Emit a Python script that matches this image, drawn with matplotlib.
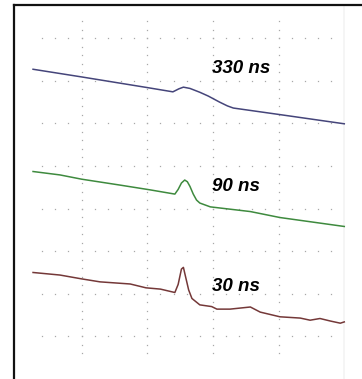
import numpy as np
import matplotlib
matplotlib.use("Agg")
import matplotlib.pyplot as plt

# time axis in screen divisions, signal in vertical divisions
t_330 = [0.26, 1.00, 2.00, 2.39, 2.48, 2.55, 2.65, 2.80, 2.93, 3.10, 3.22, 3.31, 4.00, 5.00]
v_330 = [7.27, 7.09, 6.84, 6.74, 6.81, 6.85, 6.82, 6.73, 6.64, 6.50, 6.41, 6.36, 6.21, 5.99]

t_90 = [0.26, 0.67, 1.00, 1.59, 2.04, 2.42, 2.47, 2.52, 2.57, 2.61, 2.65, 2.70, 2.75, 2.80,
        2.96, 3.57, 4.02, 5.00]
v_90 = [4.87, 4.79, 4.69, 4.55, 4.44, 4.34, 4.45, 4.60, 4.67, 4.63, 4.52, 4.34, 4.20, 4.13,
        4.04, 3.93, 3.79, 3.58]

t_30 = [0.26, 0.67, 1.00, 1.28, 1.74, 1.98, 2.20, 2.42, 2.47, 2.52, 2.55, 2.58, 2.63, 2.68,
        2.80, 2.98, 3.06, 3.26, 3.57, 3.72, 4.02, 4.33, 4.48, 4.63, 4.79, 4.94, 5.00]
v_30 = [2.50, 2.44, 2.35, 2.28, 2.23, 2.14, 2.11, 2.03, 2.22, 2.58, 2.62, 2.42, 2.09, 1.89,
        1.74, 1.70, 1.64, 1.64, 1.69, 1.57, 1.46, 1.43, 1.38, 1.42, 1.36, 1.31, 1.34]

labels = ['330 ns', '90 ns', '30 ns']
label_y = [7.28, 4.52, 2.18]

fig = plt.figure(figsize=(3.62, 3.79), dpi=100)
ax = fig.add_axes([14 / 362, 0, 348 / 362, (379 - 4.5) / 379])
ax.set_xlim(-0.03, 5.27)
ax.set_ylim(0, 8.79)
ax.set_xticks([])
ax.set_yticks([])
for s in ['bottom', 'right']:
    ax.spines[s].set_visible(False)
for s in ['left', 'top']:
    ax.spines[s].set_linewidth(1.6)
    ax.spines[s].set_color('#111111')

# oscilloscope dotted graticule
dot = dict(ls='none', marker='s', ms=0.9, mew=0, color='#a8a8a8')
col_y = np.arange(0.6, 8.45, 0.2)
for gx in [1, 2, 3, 4]:
    ax.plot(np.full_like(col_y, gx), col_y, **dot)
row_x = np.arange(0.4, 4.85, 0.2)
for gy in range(1, 9):
    ax.plot(row_x, np.full_like(row_x, gy), **dot)
ax.axvline(5.0, color='#f3f3f3', lw=1.2)

ax.plot(t_330, v_330, color='#45457a', lw=1.1)
ax.plot(t_90, v_90, color='#3e8a3e', lw=1.1)
ax.plot(t_30, v_30, color='#743838', lw=1.1)

for lab, y in zip(labels, label_y):
    ax.text(2.98, y, lab, ha='left', va='center', fontsize=13.5,
            fontweight='bold', style='italic', family='Liberation Sans')

fig.savefig('out.png', dpi=100)
